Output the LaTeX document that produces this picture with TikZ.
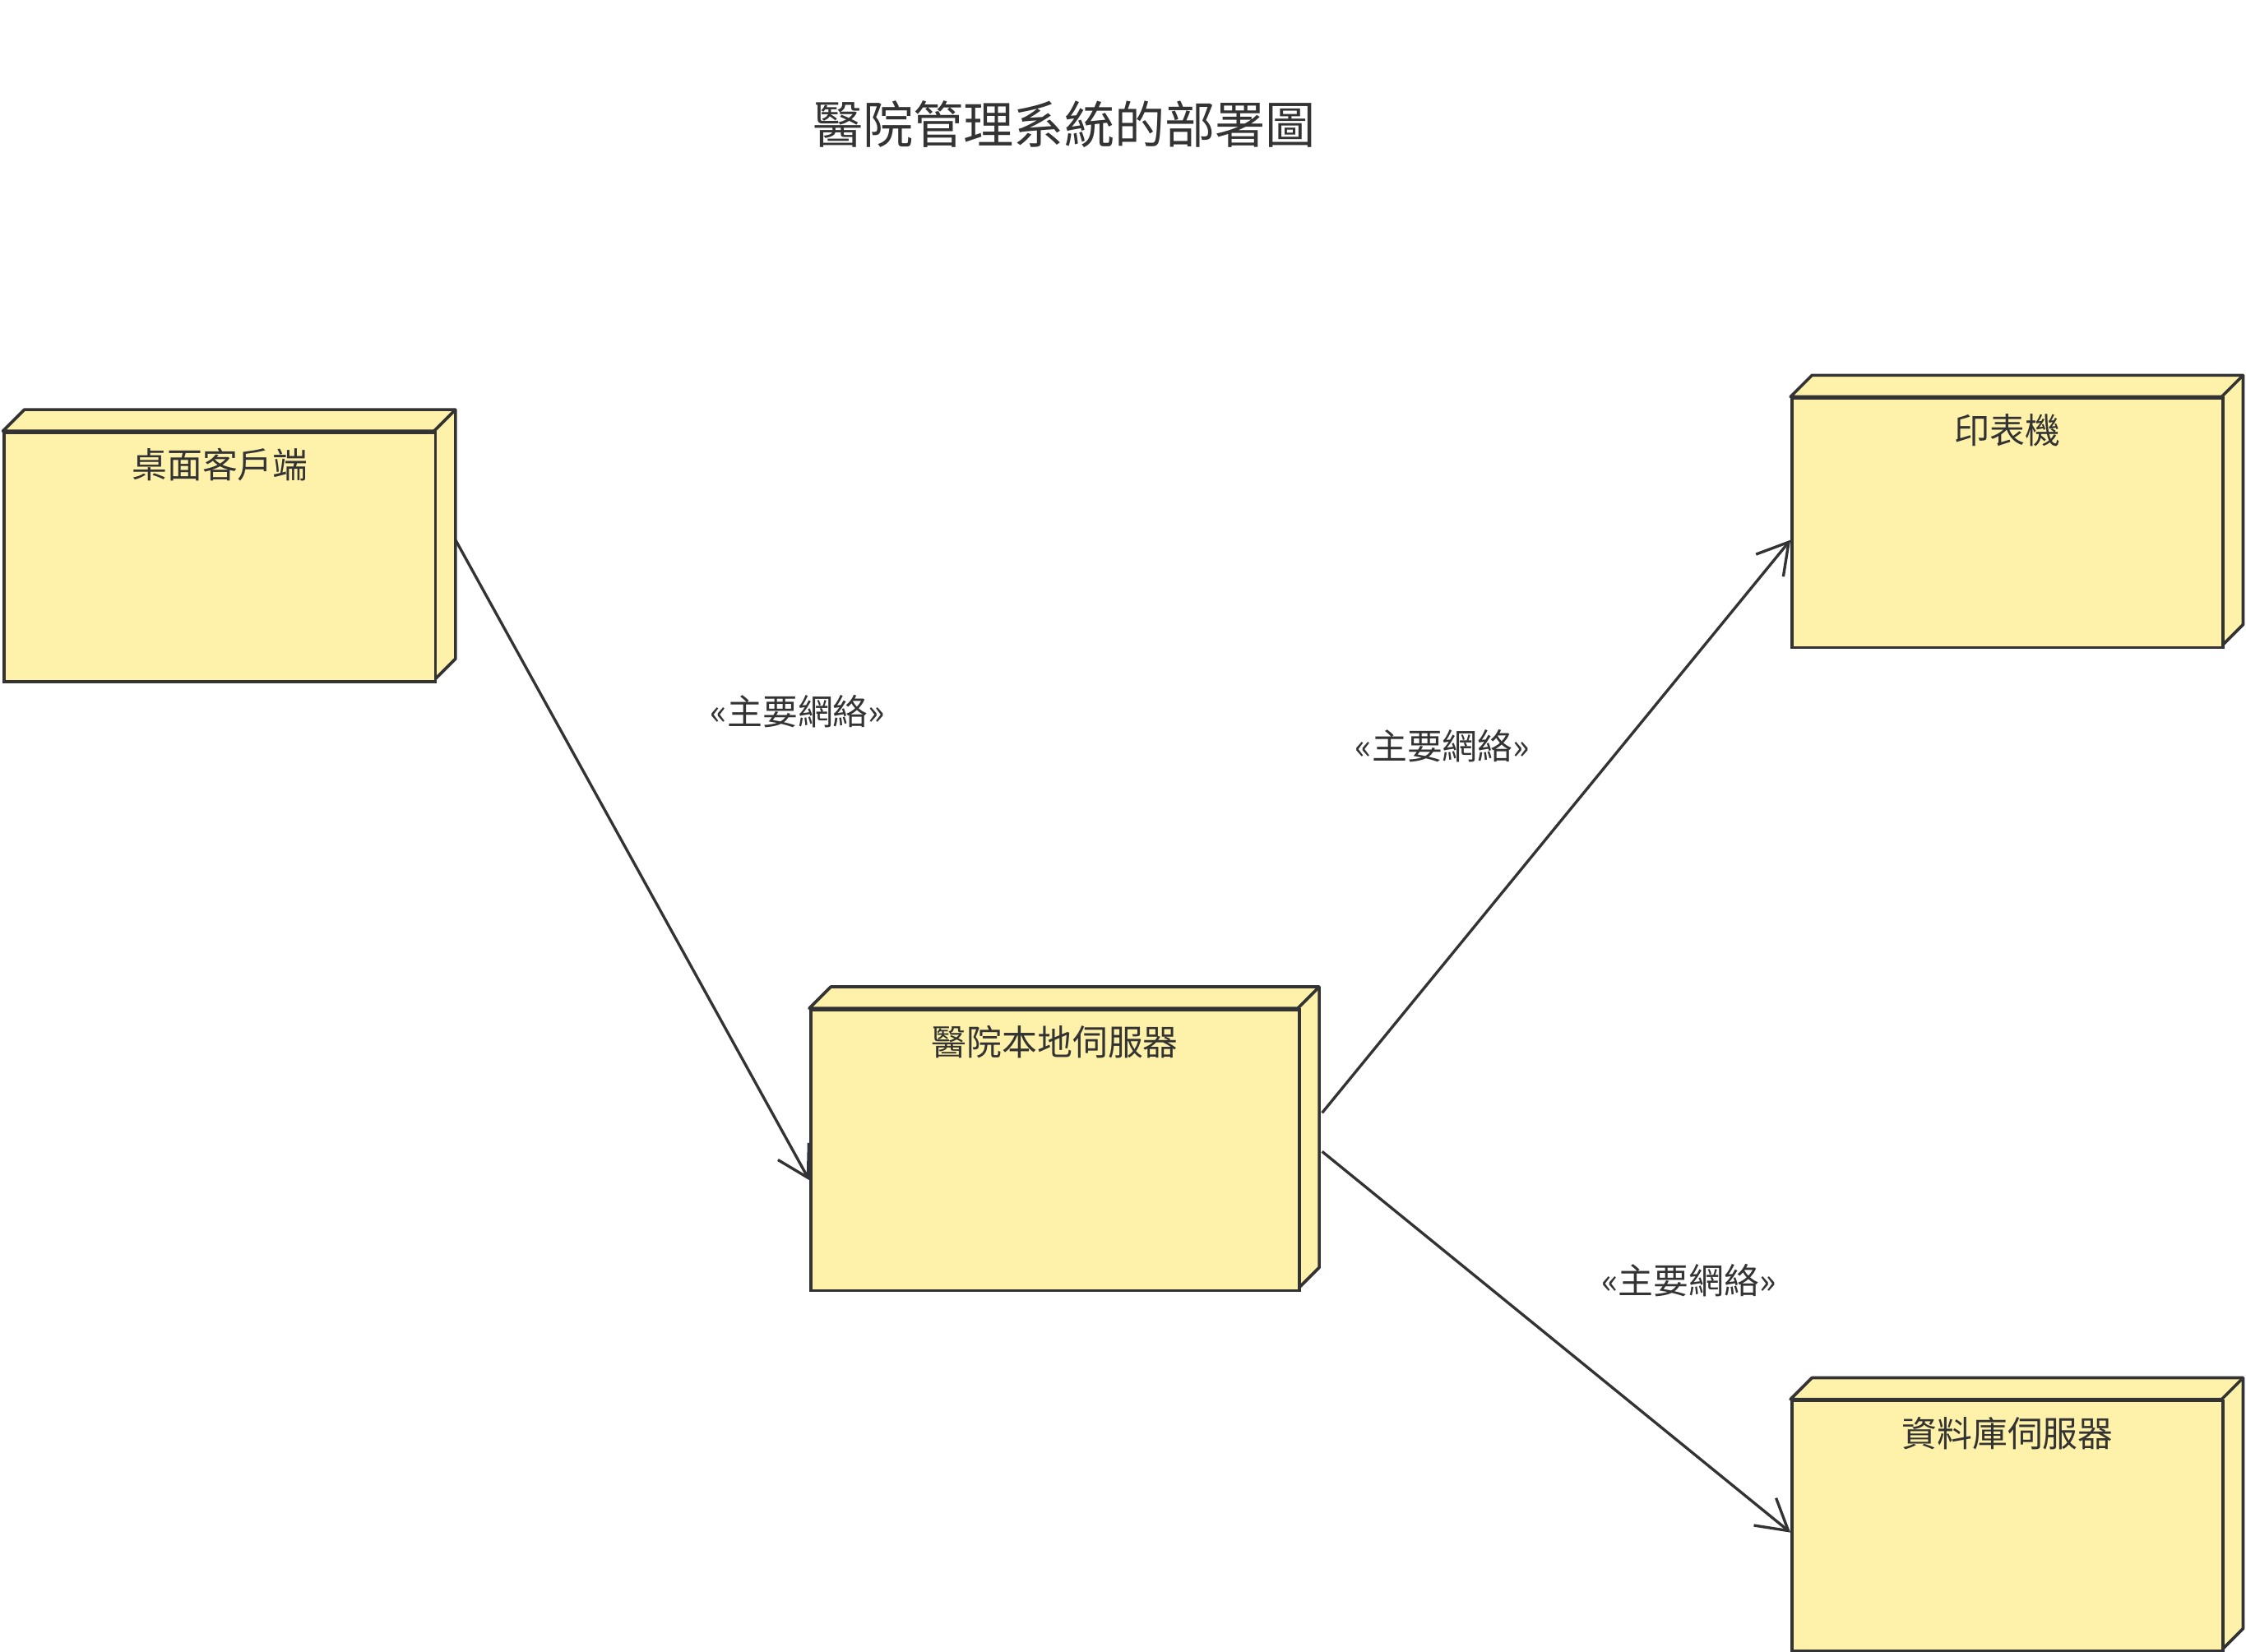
\documentclass[tikz,border=0pt]{standalone}
\usepackage{fontspec}
\setmainfont{Noto Sans CJK TC}
\usetikzlibrary{arrows.meta}
\definecolor{nodefill}{HTML}{FEF1A9}
\definecolor{ln}{HTML}{333333}
\begin{document}
\begin{tikzpicture}[x=0.02cm,y=-0.02cm,
  box/.style={draw=ln,fill=nodefill,line width=1.2pt},
  lbl/.style={font=\fontsize{14}{16}\selectfont,text=ln},
  conn/.style={draw=ln,line width=1.1pt,-{Straight Barb[length=12pt,width=14pt]}}]
\useasboundingbox (0,0) rectangle (1568,1153);
\newcommand{\ubox}[6]{% name, x1,y1,x2,y2, text
  \filldraw[fill=nodefill,draw=ln,line width=1.2pt,line join=round] (#2,#3) -- (#2+15,#3-15) -- (#4+15,#3-15) -- (#4+15,#5-15) -- (#4,#5) -- (#4,#3) -- cycle;
  \draw[draw=ln,line width=1.2pt] (#4,#3) -- (#4+15,#3-15);
  \node[box,minimum width=(#4-#2)*0.02cm,minimum height=(#5-#3)*0.02cm,anchor=north west,inner sep=0pt] (#1) at (#2,#3) {};
  \node[lbl,anchor=north] (#1-t) at ([yshift=-0.12cm]#1.north) {#6};
}
\node[font=\fontsize{20}{24}\selectfont,text=ln] (title) at (743,87) {醫院管理系統的部署圖};
\ubox{desk}{2}{301}{303}{475}{桌面客戶端}
\ubox{prn}{1250}{277}{1551}{451}{印表機}
\ubox{srv}{565}{704}{906}{900}{醫院本地伺服器}
\ubox{db}{1250}{977}{1551}{1152}{資料庫伺服器}
\coordinate (a1) at (318,377);
\coordinate (a2) at (923,777);
\coordinate (a3) at (923,804);
\draw[conn] (a1) -- (srv.west |- 0,824);
\draw[conn] (a2) -- (prn.west |- 0,377);
\draw[conn] (a3) -- (db.west |- 0,1070);
\node[lbl] (l1) at (557,497) {<<主要網絡>>};
\node[lbl] (l2) at (1007,521) {<<主要網絡>>};
\node[lbl] (l3) at (1179,894) {<<主要網絡>>};
\end{tikzpicture}
\end{document}
